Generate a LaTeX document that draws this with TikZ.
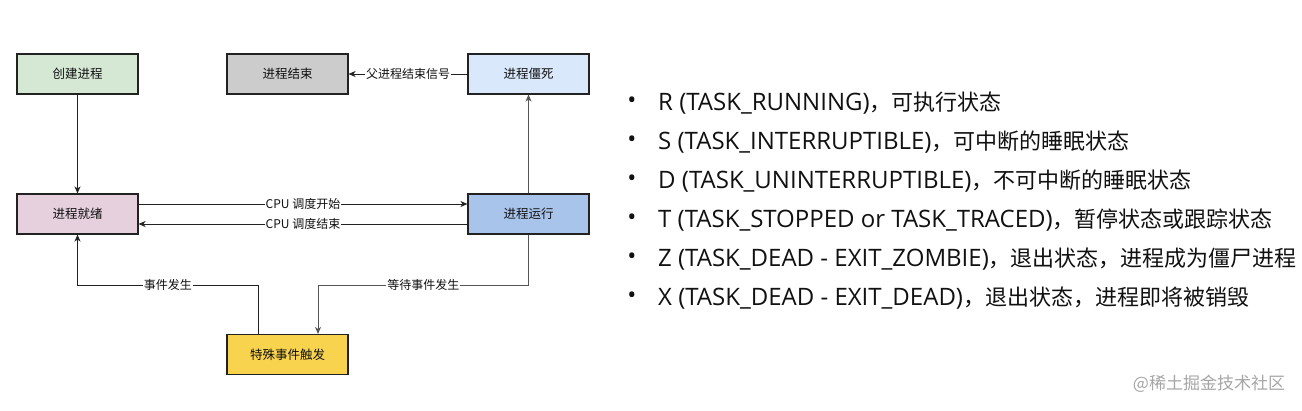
\documentclass[tikz,border=0pt]{standalone}
\usepackage{fontspec}
\setmainfont{Open Sans}
\newfontfamily\cjk{Noto Sans CJK SC}
\usetikzlibrary{arrows.meta}
\definecolor{cCreate}{HTML}{D5E8D4}
\definecolor{cEnd}{HTML}{CCCCCC}
\definecolor{cZombie}{HTML}{DAE8FC}
\definecolor{cReady}{HTML}{E6D0DE}
\definecolor{cRun}{HTML}{A9C4EB}
\definecolor{cSpecial}{HTML}{F8D34E}
\definecolor{cLine}{HTML}{222222}
\definecolor{cLineG}{HTML}{555555}
\definecolor{cText}{HTML}{111111}
\begin{document}
\begin{tikzpicture}[x=1pt,y=-1pt,
  box/.style={draw=cLine, line width=1.1pt, minimum width=121pt, minimum height=40pt, inner sep=0pt, text=cText, font=\cjk\fontsize{12.5}{14}\selectfont},
  arr/.style={draw=cLine, line width=0.9pt, -{Stealth[length=7pt,width=6pt,inset=2pt]}},
  arrg/.style={arr, draw=cLineG},
  lbl/.style={fill=white, inner sep=1pt, text=cText, font=\cjk\fontsize{12}{14}\selectfont},
  bul/.style={text=cText, font=\fontsize{24}{28}\selectfont},
  item/.style={anchor=west, inner sep=0pt, text=cText, font=\fontsize{24}{28}\selectfont},
  cjtext/.style={}]
\useasboundingbox (0,0) rectangle (1302,410);
\fill[white] (0,0) rectangle (1302,410);

\node[box, fill=cCreate]  (create)  at (77.5,74)   {创建进程};
\node[box, fill=cEnd]     (endp)    at (287.5,74)  {进程结束};
\node[box, fill=cZombie]  (zombie)  at (528.5,74)  {进程僵死};
\node[box, fill=cReady]   (ready)   at (77.5,214)  {进程就绪};
\node[box, fill=cRun]     (run)     at (528.5,214) {进程运行};
\node[box, fill=cSpecial] (special) at (287.5,354.5) {特殊事件触发};

\coordinate (w1) at (528.5,285);
\coordinate (w2) at (318,285);
\coordinate (e1) at (258,285);
\coordinate (e2) at (77.5,285);

\draw[arr] (create) -- (ready);
\draw[arr] (zombie) -- node[lbl]{父进程结束信号} (endp);
\draw[arrg] (run) -- (zombie);
\draw[arr] ([yshift=10pt]ready.east) -- node[lbl]{CPU 调度开始} ([yshift=10pt]run.west);
\draw[arr] ([yshift=-10pt]run.west) -- node[lbl]{CPU 调度结束} ([yshift=-10pt]ready.east);
\draw[arrg] (run.south) -- (w1) -- node[lbl]{等待事件发生} (w2) -- (w2 |- special.north);
\draw[arr] (e1 |- special.north) -- (e1) -- node[lbl]{事件发生} (e2) -- (ready.south);

\foreach \y/\t in {
  103/{R (TASK\_RUNNING){\cjk\fontsize{22}{26}\selectfont ，可执行状态}},
  142/{S (TASK\_INTERRUPTIBLE){\cjk\fontsize{22}{26}\selectfont ，可中断的睡眠状态}},
  181/{D (TASK\_UNINTERRUPTIBLE){\cjk\fontsize{22}{26}\selectfont ，不可中断的睡眠状态}},
  220/{T (TASK\_STOPPED or TASK\_TRACED){\cjk\fontsize{22}{26}\selectfont ，暂停状态或跟踪状态}},
  259/{Z (TASK\_DEAD - EXIT\_ZOMBIE){\cjk\fontsize{22}{26}\selectfont ，退出状态，进程成为僵尸进程}},
  298/{X (TASK\_DEAD - EXIT\_DEAD){\cjk\fontsize{22}{26}\selectfont ，退出状态，进程即将被销毁}}} {
  \node[bul] at (632,\y) {•};
  \node[item] at (658,\y) {\t};
}

\node[text=black!35, font=\cjk\fontsize{17}{19}\selectfont] (wm) at (1209,384) {@稀土掘金技术社区};
\end{tikzpicture}
\end{document}
